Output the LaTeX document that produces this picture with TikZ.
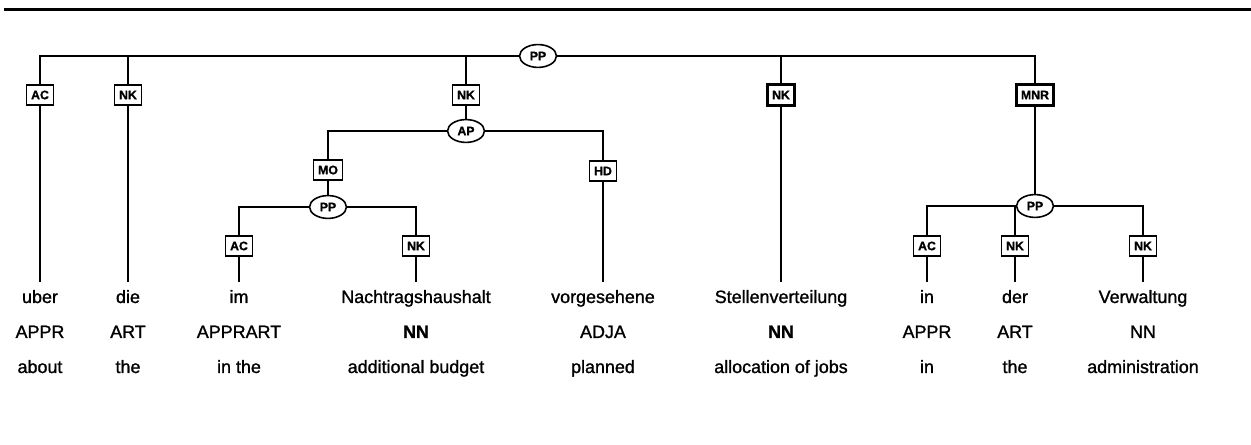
\documentclass[tikz,border=0pt]{standalone}
\usepackage{fontspec}
\setmainfont[FakeBold=1.2]{Liberation Sans}
\usetikzlibrary{shapes.geometric}
\usetikzlibrary{positioning}

\begin{document}
\begin{tikzpicture}[x=0.02cm,y=-0.02cm,
  edge/.style={line width=1.1pt},
  fn/.style={draw,line width=0.9pt,font=\fontsize{7}{8}\selectfont\bfseries,inner xsep=2.6pt,inner ysep=0pt,minimum height=11.6pt,fill=white},
  fnheavy/.style={fn,line width=1.8pt},
  cat/.style={draw,ellipse,line width=0.9pt,font=\fontsize{7}{8}\selectfont\bfseries,inner sep=0pt,minimum width=21pt,minimum height=13pt,fill=white},
  word/.style={font=\fontsize{10.2}{12}\selectfont,text height=7.5pt,text depth=2pt,inner ysep=4.5pt,anchor=base},
  tag/.style={font=\fontsize{10.2}{12}\selectfont,anchor=base},
  gloss/.style={font=\fontsize{10.2}{12}\selectfont,anchor=base}]
\useasboundingbox (0,0) rectangle (1251,445);
\draw[line width=1.7pt] (4,10) -- (1251,10);

% phrase nodes
\node[cat] (ppTop) at (538,56) {PP};
\node[cat] (ap) at (466,131) {AP};
\node[cat] (ppIm) at (328,207) {PP};
\node[cat] (ppIn) at (1035,206) {PP};

% edge labels
\node[fn] (acUber) at (40,95) {AC};
\node[fn] (nkDie) at (128,95) {NK};
\node[fn] (nkAp) at (466,95) {NK};
\node[fnheavy] (nkStelle) at (781,95) {NK};
\node[fnheavy] (mnr) at (1035,95) {MNR};
\node[fn] (mo) at (328,170) {MO};
\node[fn] (hd) at (603,171) {HD};
\node[fn] (acIm) at (239,246) {AC};
\node[fn] (nkNach) at (416,246) {NK};
\node[fn] (acIn) at (927,246) {AC};
\node[fn] (nkDer) at (1015,246) {NK};
\node[fn] (nkVerw) at (1143,246) {NK};

% words, tags, glosses
\node[word] (wUber) at (40,303) {uber};
\node[word] (wDie) at (128,303) {die};
\node[word] (wIm) at (239,303) {im};
\node[word] (wNach) at (416,303) {Nachtragshaushalt};
\node[word] (wVorg) at (603,303) {vorgesehene};
\node[word] (wStelle) at (781,303) {Stellenverteilung};
\node[word] (wIn) at (927,303) {in};
\node[word] (wDer) at (1015,303) {der};
\node[word] (wVerw) at (1143,303) {Verwaltung};

\node[tag] (tUber) at (40,338) {APPR};
\node[tag] (tDie) at (128,338) {ART};
\node[tag] (tIm) at (239,338) {APPRART};
\node[tag] (tNach) at (416,338) {\bfseries NN};
\node[tag] (tVorg) at (603,338) {ADJA};
\node[tag] (tStelle) at (781,338) {\bfseries NN};
\node[tag] (tIn) at (927,338) {APPR};
\node[tag] (tDer) at (1015,338) {ART};
\node[tag] (tVerw) at (1143,338) {NN};

\node[gloss] (gUber) at (40,373) {about};
\node[gloss] (gDie) at (128,373) {the};
\node[gloss] (gIm) at (239,373) {in the};
\node[gloss] (gNach) at (416,373) {additional budget};
\node[gloss] (gVorg) at (603,373) {planned};
\node[gloss] (gStelle) at (781,373) {allocation of jobs};
\node[gloss] (gIn) at (927,373) {in};
\node[gloss] (gDer) at (1015,373) {the};
\node[gloss] (gVerw) at (1143,373) {administration};

% tree edges
\begin{scope}[edge]
\draw (ppTop.west) -| (acUber.north);
\draw (ppTop.west) -| (nkDie.north);
\draw (ppTop.west) -| (nkAp.north);
\draw (ppTop.east) -| (nkStelle.north);
\draw (ppTop.east) -| (mnr.north);
\draw (nkAp.south) -- (ap.north);
\draw (ap.west) -| (mo.north);
\draw (ap.east) -| (hd.north);
\draw (mo.south) -- (ppIm.north);
\draw (ppIm.west) -| (acIm.north);
\draw (ppIm.east) -| (nkNach.north);
\draw (mnr.south) -- (ppIn.north);
\draw (ppIn.west) -| (acIn.north);
\draw (ppIn.west) -| (nkDer.north);
\draw (ppIn.east) -| (nkVerw.north);
\draw (acUber.south) -- (wUber.north);
\draw (nkDie.south) -- (wDie.north);
\draw (acIm.south) -- (wIm.north);
\draw (nkNach.south) -- (wNach.north);
\draw (hd.south) -- (wVorg.north);
\draw (nkStelle.south) -- (wStelle.north);
\draw (acIn.south) -- (wIn.north);
\draw (nkDer.south) -- (wDer.north);
\draw (nkVerw.south) -- (wVerw.north);
\end{scope}

\end{tikzpicture}
\end{document}
